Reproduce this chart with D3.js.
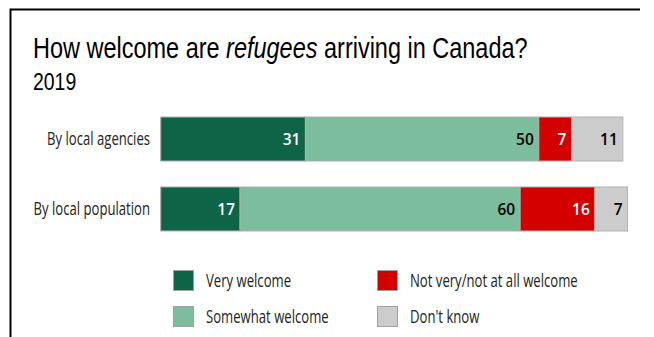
<!DOCTYPE html>
<html>
<head>
<meta charset="utf-8">
<script src="https://cdn.jsdelivr.net/npm/d3@7"></script>
<style>
  html, body { margin: 0; padding: 0; background: #fff; }
  svg { display: block; }
</style>
</head>
<body>
<svg id="chart" width="654" height="337"></svg>
<script>
// Survey responses, percent of respondents
const categories = ["By local agencies", "By local population"];
const seriesNames = ["Very welcome", "Somewhat welcome", "Not very/not at all welcome", "Don't know"];
const veryWelcome = [31, 17];
const somewhatWelcome = [50, 60];
const notWelcome = [7, 16];
const dontKnow = [11, 7];
const valueTicks = [0, 100];

const seriesColors = ["#0e6446", "#7bbd9c", "#d40000", "#cccccc"];
const labelColors = ["#ffffff", "#000000", "#ffffff", "#000000"];

const rows = categories.map((c, i) => ({
  category: c,
  "Very welcome": veryWelcome[i],
  "Somewhat welcome": somewhatWelcome[i],
  "Not very/not at all welcome": notWelcome[i],
  "Don't know": dontKnow[i]
}));

const svg = d3.select("#chart");
const condensed = 0.75;   // narrow face for labels
const narrowTitle = 0.81; // narrow face for the heading

// Frame lines along the top and left edge
svg.append("path")
  .attr("d", "M10.5,337 L10.5,9.5 L640,9.5")
  .attr("fill", "none")
  .attr("stroke", "#000")
  .attr("stroke-width", 2);

// Title and subtitle
const title = svg.append("text")
  .attr("transform", `translate(33,58) scale(${narrowTitle},1)`)
  .attr("font-family", "'Liberation Sans', Arial, sans-serif")
  .attr("font-size", 29)
  .attr("fill", "#000");
title.append("tspan").text("How welcome are ");
title.append("tspan").attr("font-style", "italic").text("refugees");
title.append("tspan").text(" arriving in Canada?");

svg.append("text")
  .attr("transform", `translate(33,90) scale(${narrowTitle},1)`)
  .attr("font-family", "'Liberation Sans', Arial, sans-serif")
  .attr("font-size", 24)
  .attr("fill", "#000")
  .text("2019");

// Scales
const x = d3.scaleLinear().domain(d3.extent(valueTicks)).range([160.7, 627.5]);
const y = d3.scaleBand().domain(categories).range([104, 244]).paddingInner(0.371).paddingOuter(0.186);

const stacked = d3.stack().keys(seriesNames)(rows);

// Category labels
svg.append("g").selectAll("text")
  .data(categories)
  .join("text")
  .attr("transform", d => `translate(150,${y(d) + y.bandwidth() / 2}) scale(${condensed},1)`)
  .attr("text-anchor", "end")
  .attr("dy", "0.35em")
  .attr("font-family", "'Open Sans', sans-serif")
  .attr("font-size", 17.5)
  .attr("fill", "#222")
  .text(d => d);

// Stacked bar segments
const layers = svg.append("g").selectAll("g")
  .data(stacked)
  .join("g");

layers.selectAll("rect")
  .data((s, si) => s.map(d => ({ d, si })))
  .join("rect")
  .attr("x", o => x(o.d[0]))
  .attr("y", o => y(o.d.data.category))
  .attr("width", o => x(o.d[1]) - x(o.d[0]))
  .attr("height", y.bandwidth())
  .attr("fill", o => seriesColors[o.si])
  .attr("stroke", "#b0b0b0")
  .attr("stroke-width", 1);

// Value labels, right aligned within each segment
layers.selectAll("text")
  .data((s, si) => s.map(d => ({ d, si })))
  .join("text")
  .attr("x", o => x(o.d[1]) - 5)
  .attr("y", o => y(o.d.data.category) + y.bandwidth() / 2)
  .attr("dy", "0.36em")
  .attr("text-anchor", "end")
  .attr("font-family", "'Open Sans', sans-serif")
  .attr("font-weight", 600)
  .attr("font-size", 15.5)
  .attr("fill", o => labelColors[o.si])
  .text(o => o.d[1] - o.d[0]);

// Legend, two columns
const legendPos = [[173, 270], [173, 306], [377, 270], [377, 306]];
const legend = svg.append("g").selectAll("g")
  .data(seriesNames)
  .join("g")
  .attr("transform", (d, i) => `translate(${legendPos[i][0]},${legendPos[i][1]})`);

legend.append("rect")
  .attr("x", 0.5).attr("y", 0.5)
  .attr("width", 20).attr("height", 20)
  .attr("fill", (d, i) => seriesColors[i])
  .attr("stroke", "#a0a0a0");

legend.append("text")
  .attr("transform", `translate(33,10.5) scale(${condensed},1)`)
  .attr("dy", "0.35em")
  .attr("font-family", "'Open Sans', sans-serif")
  .attr("font-size", 17.5)
  .attr("fill", "#222")
  .text(d => d);
</script>
</body>
</html>
